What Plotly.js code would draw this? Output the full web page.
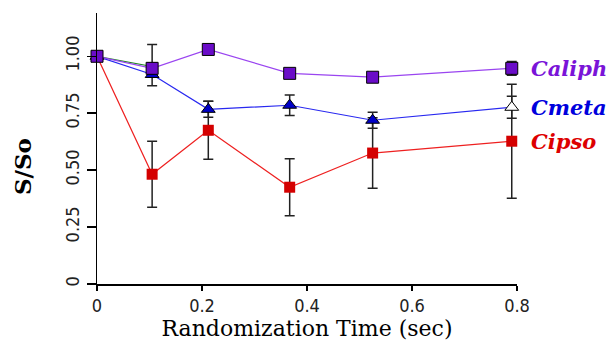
<!DOCTYPE html>
<html>
<head>
<meta charset="utf-8">
<script src="https://cdn.plot.ly/plotly-3.0.1.min.js"></script>
<style>html,body{margin:0;padding:0;background:#fff;}#chart{width:609px;height:347px;}</style>
</head>
<body>
<div id="chart"></div>
<script>
// Randomization time (sec)
const timeX = [0, 0.105, 0.212, 0.367, 0.525, 0.79];

const caliphY = [1.0, 0.947, 1.03, 0.925, 0.908, 0.947];
const caliphErrPlus = [0, 0.105, 0, 0, 0, 0.03];
const caliphErrMinus = [0, 0.02, 0, 0, 0, 0.03];

const cmetaY = [1.0, 0.92, 0.767, 0.785, 0.719, 0.776];
const cmetaErr = [0, 0.05, 0.035, 0.045, 0.035, 0.048];

const cipsoY = [1.0, 0.482, 0.675, 0.425, 0.575, 0.627];
const cipsoErr = [0, 0.145, 0.127, 0.125, 0.155, 0.25];

const greenX = [0, 0.105];
const greenY = [1.0, 0.955];

const seriesNames = ["Caliph", "Cmeta", "Cipso"];

const yTickVals = [0, 0.25, 0.5, 0.75, 1.0];
const yTickText = ["0", "0.25", "0.50", "0.75", "1.00"];
const xTickVals = [0, 0.2, 0.4, 0.6, 0.8];
const xTickText = ["0", "0.2", "0.4", "0.6", "0.8"];

const SERIF = "DejaVu Serif";
const TICKF = "DejaVu Sans Condensed";

const errStyle = {color: "#222222", thickness: 1.5, width: 5};

const traces = [
  {
    x: timeX, y: cipsoY, name: seriesNames[2], type: "scatter", mode: "lines+markers",
    line: {color: "#EE2020", width: 1.2},
    marker: {symbol: "square", size: 11, color: "#D40000", line: {width: 0}},
    error_y: Object.assign({type: "data", array: cipsoErr, visible: true}, errStyle),
    cliponaxis: false
  },
  {
    x: greenX, y: greenY, name: "g", type: "scatter", mode: "lines+markers",
    line: {color: "#228B22", width: 1.2},
    marker: {symbol: "square", size: 6, color: "#F0E020", line: {width: 0}},
    cliponaxis: false
  },
  {
    x: timeX, y: cmetaY, name: seriesNames[1], type: "scatter", mode: "lines+markers",
    line: {color: "#2828F0", width: 1.2},
    marker: {symbol: "triangle-up", size: 12,
             color: ["#0000C8", "#0000C8", "#0000C8", "#0000C8", "#0000C8", "#FFFFFF"],
             line: {width: 1, color: "#000000"}},
    error_y: Object.assign({type: "data", array: cmetaErr, visible: true}, errStyle),
    cliponaxis: false
  },
  {
    x: timeX, y: caliphY, name: seriesNames[0], type: "scatter", mode: "lines+markers",
    line: {color: "#9A45F0", width: 1.2},
    marker: {symbol: "square", size: 12, color: "#6A0CC8", line: {width: 1, color: "#000000"}},
    error_y: Object.assign({type: "data", symmetric: false, array: caliphErrPlus, arrayminus: caliphErrMinus, visible: true}, errStyle),
    cliponaxis: false
  }
];

const labelColors = ["#7A14D8", "#0000DD", "#DD0000"];
const lastIdx = timeX.length - 1;
const labelY = [caliphY[lastIdx], cmetaY[lastIdx], cipsoY[lastIdx]];
const annotations = seriesNames.map((n, i) => ({
  x: timeX[lastIdx], y: labelY[i], xref: "x", yref: "y",
  text: "<b><i>" + n + "</i></b>", showarrow: false,
  xanchor: "left", yanchor: "middle", xshift: 17,
  font: {family: SERIF, size: 21, color: labelColors[i]}
}));
annotations.push({
  xref: "paper", yref: "paper", x: -0.176, y: 0.432,
  xanchor: "center", yanchor: "middle", textangle: -90, showarrow: false,
  text: "<b>S/So</b>", font: {family: SERIF, size: 23, color: "#000"}
});

const layout = {
  width: 609, height: 347,
  margin: {l: 97, r: 92, t: 13, b: 63, pad: 0},
  paper_bgcolor: "#ffffff", plot_bgcolor: "#ffffff",
  showlegend: false,
  font: {family: SERIF, color: "#000"},
  xaxis: {
    range: [0, 0.8], tickvals: xTickVals, ticktext: xTickText,
    showgrid: false, zeroline: false, showline: true, linecolor: "#000", linewidth: 1.5,
    ticks: "outside", ticklen: 5, tickwidth: 1.5, tickcolor: "#000",
    tickfont: {family: TICKF, size: 18, color: "#222"},
    title: {text: "Randomization Time (sec)", font: {family: SERIF, size: 22, color: "#000"}, standoff: 2}
  },
  yaxis: {
    range: [0, 1.19], tickvals: yTickVals, ticktext: yTickText, tickangle: -90,
    showgrid: false, zeroline: false, showline: true, linecolor: "#000", linewidth: 1.5,
    ticks: "outside", ticklen: 9, tickwidth: 1.5, tickcolor: "#000",
    tickfont: {family: TICKF, size: 18, color: "#222"}
  },
  annotations: annotations
};

Plotly.newPlot("chart", traces, layout, {staticPlot: true, displayModeBar: false});
</script>
</body>
</html>
